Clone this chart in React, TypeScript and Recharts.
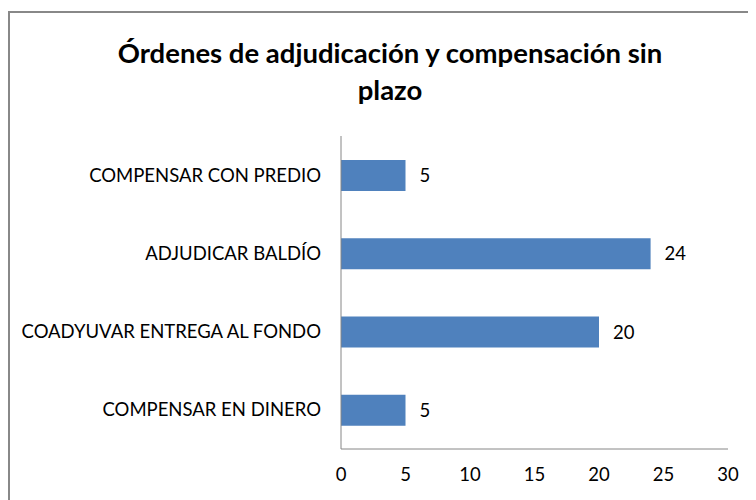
import { Bar, BarChart, LabelList, XAxis, YAxis } from "recharts";

const categories = [
  "COMPENSAR CON PREDIO",
  "ADJUDICAR BALDÍO",
  "COADYUVAR ENTREGA AL FONDO",
  "COMPENSAR EN DINERO",
];
const values = [5, 24, 20, 5];
const xTicks = [0, 5, 10, 15, 20, 25, 30];

const data = categories.map((name, i) => ({ name, value: values[i] }));

const FONT = "Lato, 'Open Sans', sans-serif";
const TICK_SIZE = 18.5;

const App = () => {
  return (
    <div style={{ position: "relative", width: 748, height: 492, fontFamily: FONT }}>
      <div
        style={{
          position: "absolute",
          left: 0,
          top: 3,
          width: 800,
          height: 600,
          borderLeft: "2px solid #888",
          borderTop: "2px solid #888",
        }}
      />
      <div
        style={{
          position: "absolute",
          left: 0,
          top: 26,
          width: 764,
          textAlign: "center",
          fontWeight: 700,
          fontSize: 27.5,
          lineHeight: "37px",
          color: "#000",
        }}
      >
        Órdenes de adjudicación y compensación sin
        <br />
        plazo
      </div>
      <div style={{ position: "absolute", left: 0, top: 0 }}>
        <BarChart
          width={748}
          height={492}
          layout="vertical"
          data={data}
          margin={{ top: 128, right: 28, bottom: 21, left: 0 }}
          barCategoryGap={0}
        >
          <XAxis
            type="number"
            domain={[0, 30]}
            ticks={xTicks}
            tickLine={false}
            tickSize={0}
            tickMargin={19}
            height={30}
            axisLine={{ stroke: "#868686" }}
            tick={{ fill: "#000", fontSize: TICK_SIZE, fontFamily: FONT }}
          />
          <YAxis
            type="category"
            dataKey="name"
            width={333}
            tickLine={false}
            tickSize={0}
            tickMargin={20}
            axisLine={{ stroke: "#868686" }}
            tick={{ fill: "#000", fontSize: TICK_SIZE, fontFamily: FONT }}
          />
          <Bar dataKey="value" fill="#4F81BD" barSize={31} isAnimationActive={false}>
            <LabelList
              dataKey="value"
              position="right"
              offset={14}
              fill="#000"
              fontSize={TICK_SIZE}
              fontFamily={FONT}
            />
          </Bar>
        </BarChart>
      </div>
    </div>
  );
};

export default App;
